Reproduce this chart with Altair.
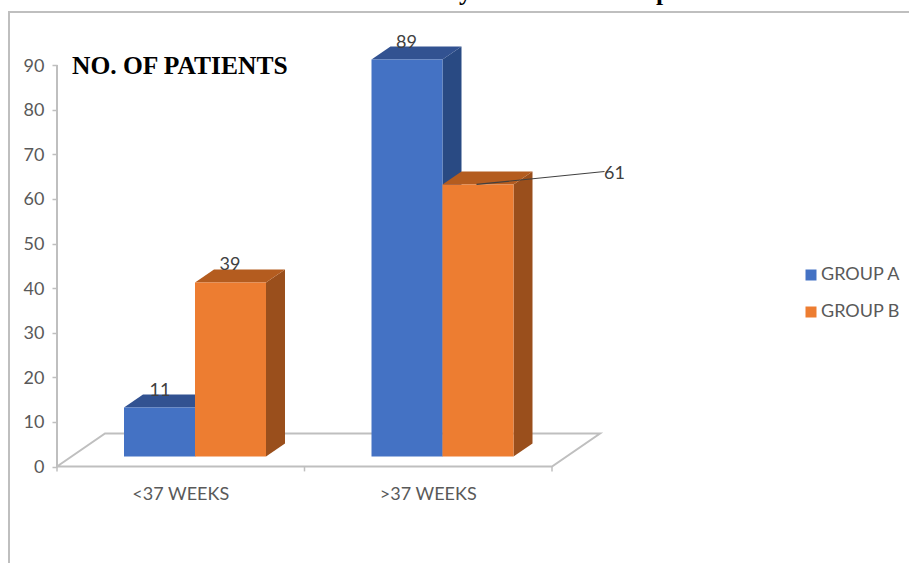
import altair as alt
import pandas as pd

# Chart values
categories = ["<37 WEEKS", ">37 WEEKS"]
series_names = ["GROUP A", "GROUP B"]
group_a = [11, 89]
group_b = [39, 61]
value_ticks = [0, 10, 20, 30, 40, 50, 60, 70, 80, 90]

BLUE, BLUE_TOP, BLUE_SIDE = "#4472c4", "#325291", "#294a83"
ORANGE, ORANGE_TOP, ORANGE_SIDE = "#ed7d31", "#b45c1f", "#9a4f1c"
GREY_TEXT = "#595959"
GREY_LINE = "#bfbfbf"
LABEL_FONT = "Lato"
LABEL_SIZE = 18

W, H = 909, 563
ZERO_X, ZERO_Y = 57, 466.5
# One x unit is one category band; one y unit is one patient.
PX_X = 247.5
PX_Y = 4.46
X_MIN, X_MAX = -ZERO_X / PX_X, (W - ZERO_X) / PX_X
Y_MIN, Y_MAX = -(H - ZERO_Y) / PX_Y, ZERO_Y / PX_Y
x_scale = alt.Scale(domain=[X_MIN, X_MAX], range=[0, W], nice=False, zero=False)
y_scale = alt.Scale(domain=[Y_MIN, Y_MAX], range=[H, 0], nice=False, zero=False)

# Projection of the pseudo-3D depth, in scale units
DX = 19 / PX_X
DY = 13 / PX_Y
BASE = 10 / PX_Y
BAR_W = 71 / PX_X
BAR_START = 67 / PX_X
FLOOR_DX = 48 / PX_X
FLOOR_DY = 33 / PX_Y

ENC_X = alt.X("x:Q", scale=x_scale, axis=None)
# Every layer shares this y axis: it is moved in to the left end of the floor
ENC_Y = alt.Y(
    "y:Q",
    scale=y_scale,
    stack=None,
    axis=alt.Axis(
        values=value_ticks,
        orient="left",
        offset=-ZERO_X,
        domain=False,
        grid=False,
        title=None,
        tickColor=GREY_LINE,
        tickSize=5,
        tickWidth=1.5,
        labelColor=GREY_TEXT,
        labelFont=LABEL_FONT,
        labelFontSize=LABEL_SIZE,
        labelPadding=8,
        labelOffset=1,
    ),
)


def band_area(rows, color):
    return alt.Chart(pd.DataFrame(rows)).mark_area(color=color, opacity=1, orient="vertical").encode(
        x=ENC_X, y=ENC_Y, y2=alt.Y2("y2")
    )


def side_face(x0, value, color):
    x1 = x0 + BAR_W
    return band_area(
        [
            {"x": x1, "y": BASE, "y2": BASE + value},
            {"x": x1 + DX, "y": BASE + DY, "y2": BASE + value + DY},
        ],
        color,
    )


def top_face(x0, value, color):
    top = BASE + value
    x1 = x0 + BAR_W
    return band_area(
        [
            {"x": x0, "y": top, "y2": top},
            {"x": x0 + DX, "y": top, "y2": top + DY},
            {"x": x1, "y": top, "y2": top + DY},
            {"x": x1 + DX, "y": top + DY, "y2": top + DY},
        ],
        color,
    )


def line(points, color=GREY_LINE, width=2):
    return alt.Chart(pd.DataFrame(points, columns=["x", "y"]).assign(i=range(len(points)))).mark_line(
        color=color, strokeWidth=width
    ).encode(x=ENC_X, y=ENC_Y, order="i:Q")


# Chart frame, running off the page on the right and at the bottom
frame = line(
    [(9 / PX_X + X_MIN, Y_MIN), (9 / PX_X + X_MIN, Y_MAX - 12 / PX_Y), (X_MAX, Y_MAX - 12 / PX_Y)]
)

# Value axis line and the floor of the 3D plot
floor = line(
    [
        (0, 90),
        (0, 0),
        (2, 0),
        (2 + FLOOR_DX, FLOOR_DY),
        (FLOOR_DX, FLOOR_DY),
        (0, 0),
    ]
)

# Category separators and labels along the front of the floor
sep = alt.Chart(pd.DataFrame({"x": [0, 1, 2], "y": [0, 0, 0], "y2": [-1.1, -1.1, -1.1]})).mark_rule(
    color=GREY_LINE, strokeWidth=1.5
).encode(x=ENC_X, y=ENC_Y, y2=alt.Y2("y2"))
cat_labels = alt.Chart(pd.DataFrame({"c": categories, "x": [0.5, 1.5], "y": [-6.3, -6.3]})).mark_text(
    font=LABEL_FONT, fontSize=LABEL_SIZE, color=GREY_TEXT, baseline="middle"
).encode(x=ENC_X, y=ENC_Y, text="c:N")

# Bars: front faces carry the legend, side and top faces give the depth
layers = [frame, floor, sep, cat_labels]
colors = {"GROUP A": (BLUE, BLUE_TOP, BLUE_SIDE), "GROUP B": (ORANGE, ORANGE_TOP, ORANGE_SIDE)}
fronts = []
for s, values in zip(series_names, [group_a, group_b]):
    offset = 0 if s == "GROUP A" else BAR_W
    for i, v in enumerate(values):
        x0 = i + BAR_START + offset
        layers.append(side_face(x0, v, colors[s][2]))
        layers.append(top_face(x0, v, colors[s][1]))
        fronts.append({"series": s, "x": x0, "x2": x0 + BAR_W, "y": BASE, "y2": BASE + v})

front_bars = alt.Chart(pd.DataFrame(fronts)).mark_rect().encode(
    x=ENC_X,
    x2=alt.X2("x2"),
    y=ENC_Y,
    y2=alt.Y2("y2"),
    color=alt.Color(
        "series:N",
        scale=alt.Scale(domain=series_names, range=[BLUE, ORANGE]),
        legend=alt.Legend(
            orient="none",
            legendX=802,
            legendY=266,
            title=None,
            symbolType="square",
            symbolSize=121,
            symbolStrokeWidth=0,
            labelFont=LABEL_FONT,
            labelFontSize=LABEL_SIZE,
            labelColor=GREY_TEXT,
            rowPadding=19,
            labelOffset=1,
        ),
    ),
)
layers.append(front_bars)

# Data labels sit on the rear edge of each bar's top face
labels = pd.DataFrame(
    [
        {"t": group_a[0], "x": BAR_START + 36 / PX_X, "y": BASE + group_a[0] + 3.7},
        {"t": group_b[0], "x": BAR_START + BAR_W + 35 / PX_X, "y": BASE + group_b[0] + 3.9},
        {"t": group_a[1], "x": 1 + BAR_START + 35 / PX_X, "y": BASE + group_a[1] + 3.8},
        {"t": group_b[1], "x": 1 + BAR_START + BAR_W + 172 / PX_X, "y": BASE + group_b[1] + 2.4},
    ]
)
leader = line(
    [
        (1 + BAR_START + BAR_W + 34 / PX_X, BASE + group_b[1]),
        (1 + BAR_START + BAR_W + 162 / PX_X, BASE + group_b[1] + 2.9),
    ],
    color="#404040",
    width=1.2,
)
data_labels = alt.Chart(labels).mark_text(
    font=LABEL_FONT, fontSize=LABEL_SIZE, color="#404040", baseline="middle"
).encode(x=ENC_X, y=ENC_Y, text="t:Q")
layers += [leader, data_labels]

# Heading inside the plot, and the caption cut off by the top of the page
heading = alt.Chart(
    pd.DataFrame({"t": ["NO. OF PATIENTS"], "x": [15 / PX_X], "y": [89.8]})
).mark_text(
    font="Liberation Serif", fontWeight="bold", fontSize=25.5, color="#000000", align="left", baseline="middle"
).encode(x=ENC_X, y=ENC_Y, text="t:N")
caption = alt.Chart(
    pd.DataFrame({"t": ["The GA History in the Two Groups"], "x": [623 / PX_X], "y": [Y_MAX]})
).mark_text(
    font="Liberation Serif", fontWeight="bold", fontSize=25.5, color="#000000", align="right", baseline="alphabetic"
).encode(x=ENC_X, y=ENC_Y, text="t:N")
layers += [heading, caption]

chart = (
    alt.layer(*layers)
    .resolve_scale(color="independent")
    .properties(width=W, height=H, padding=0, autosize=alt.AutoSizeParams(type="none"))
    .configure_view(stroke=None)
)

chart.save("out.html", embed_options={"renderer": "svg", "actions": False})
